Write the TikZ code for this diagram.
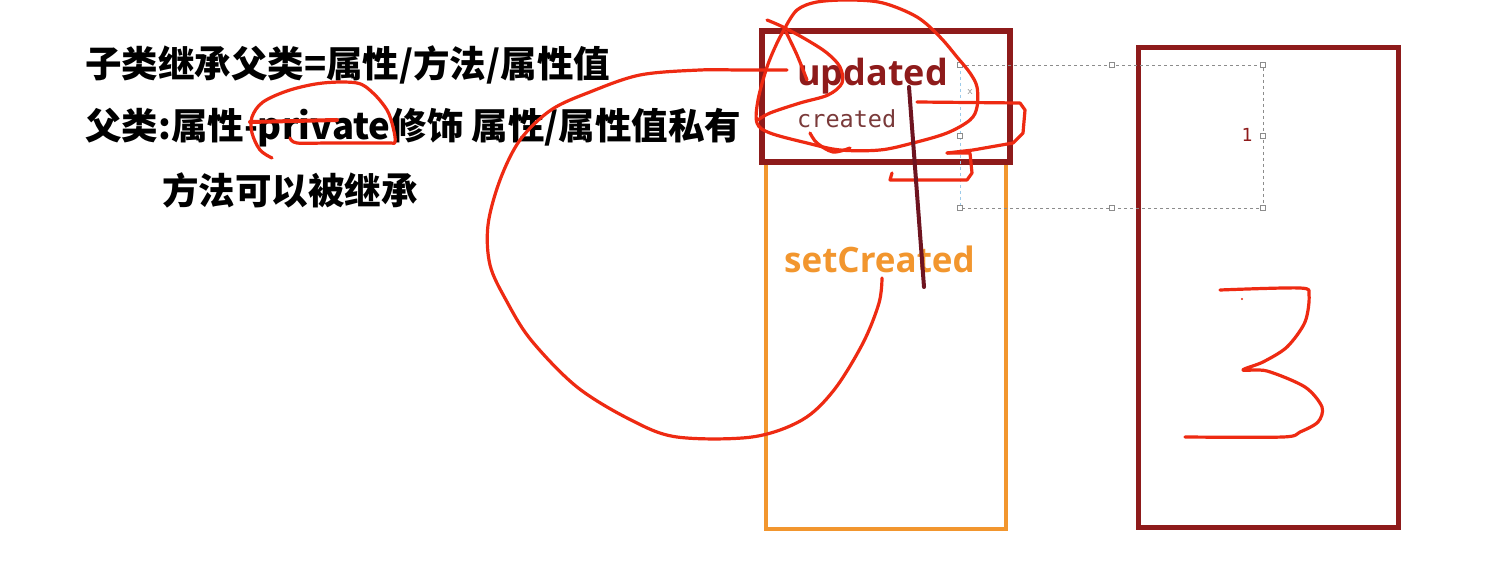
\documentclass[tikz,border=0pt]{standalone}
\usepackage{fontspec}
\usepackage{tikz}
\newfontfamily\cjk{Noto Sans CJK SC}
\newfontfamily\ui{Open Sans}
\newfontfamily\mono{DejaVu Sans Mono}
\definecolor{clsred}{HTML}{8E1B1B}
\definecolor{subor}{HTML}{F2962E}
\definecolor{ink}{HTML}{EE2A12}
\definecolor{stick}{HTML}{6E1420}
\definecolor{crd}{HTML}{7A3A3A}
\definecolor{selg}{HTML}{8C8C8C}
\definecolor{selb}{HTML}{9CCBEA}
\tikzset{
  pen/.style={draw=ink,line width=3.2pt,line cap=round,line join=round},
  hd/.style={draw=selg,fill=white,line width=0.6pt,minimum size=4.5pt,inner sep=0pt},
  txt/.style={anchor=west,inner sep=0pt,font=\cjk\bfseries\fontsize{36.5}{40}\selectfont},
  fld/.style={anchor=base west,inner sep=0pt},
}
\begin{document}
\begin{tikzpicture}[x=1pt,y=-1pt]
\useasboundingbox[fill=white] (0,0) rectangle (1501,580);
% text on the left
\node[txt] (l1) at (85,65){子类继承父类=属性/方法/属性值};
\node[txt] (l2) at (85,128){父类:属性-private修饰 属性/属性值私有};
\node[txt] (l3) at (162,190){方法可以被继承};
% boxes
\draw[subor,line width=4.5pt] (766,163) rectangle (1006,529);
\draw[clsred,line width=6pt] (762,31) rectangle (1010,162);
\draw[clsred,line width=5pt] (1138,48) rectangle (1398,527);
\node[fld,font=\ui\bfseries\fontsize{36}{40}\selectfont,text=clsred] (up) at (797,86){updated};
\node[fld,font=\mono\fontsize{23.5}{28}\selectfont,text=crd] (cr) at (797,128){created};
\node[fld,font=\ui\bfseries\fontsize{35}{40}\selectfont,text=subor] (sc) at (784,272){setCreated};
% selection frame
\draw[selg,dashed,line width=0.8pt] (960,65) -- (1263,65) -- (1263,208) -- (960,208);
\draw[selb,dashed,line width=0.8pt] (960,65) -- (960,208);
\foreach \x/\y [count=\i] in {960/65,1112/65,1263/65,1263/136,1263/208,1112/208,960/208,960/136}
  \node[hd] (h\i) at (\x,\y){};
\node[font=\mono\fontsize{18}{20}\selectfont,text=clsred] (one) at (1247,135){1};
\node[font=\sffamily\fontsize{11}{12}\selectfont,text=selg] (xx) at (970,92){x};
% strokes
\draw[pen] plot[smooth,tension=0.55] coordinates {(272,158)(260,150)(252,133)(252,117)(263,102)(290,90)(323,83)(357,83)(373,93)(387,110)(393,127)(395,142)(387,143)(330,143)(297,143)(290,138)};
\draw[pen,line width=4pt] (250,122) -- (337,120);
\draw[pen] plot[smooth,tension=0.55] coordinates {(787,70)(740,70)(700,70)(640,75)(590,92)(551,110)(520,140)(500,180)(488,225)(490,265)(506,300)(531,340)(577,387)(631,420)(677,437)(752,437)(802,420)(834,390)(863,343)(879,303)(882,278)};
\draw[pen] plot[smooth,tension=0.55] coordinates {(785,28)(797,10)(817,2)(850,0)(883,3)(917,17)(940,37)(957,57)(970,73)(977,87)(977,107)(970,120)(947,133)(913,143)(880,150)(840,150)(807,143)(770,133)(757,123)(758,100)(767,67)(777,43)(785,28)};
\draw[pen] plot[smooth,tension=0.55] coordinates {(767,20)(783,27)(807,40)(827,53)(840,67)(842,83)(828,95)(800,103)(770,113)(758,120)};
\draw[pen] plot[smooth,tension=0.55] coordinates {(786,32)(797,55)(807,80)};
\draw[pen] plot[smooth,tension=0.55] coordinates {(810,133)(817,143)(833,152)(850,148)};
\draw[pen] (917,102) -- (1020,103) -- (1025,110) -- (1023,133) -- (1013,143) -- (973,150) -- (947,153);
\draw[pen] (947,153) -- (970,153) -- (972,173) -- (967,180) -- (890,180) -- (892,173);
\draw[pen] plot[smooth,tension=0.5] coordinates {(1220,290)(1300,288)(1309,295)(1305,322)(1287,347)(1263,362)(1243,370)(1267,371)(1305,387)(1322,407)(1318,422)(1300,432)(1283,437)(1185,437)};
\fill[ink] (1242,299) circle (1.2pt);
\draw[stick,line width=4pt,line cap=round] (909,87) -- (924,287);
\end{tikzpicture}
\end{document}
